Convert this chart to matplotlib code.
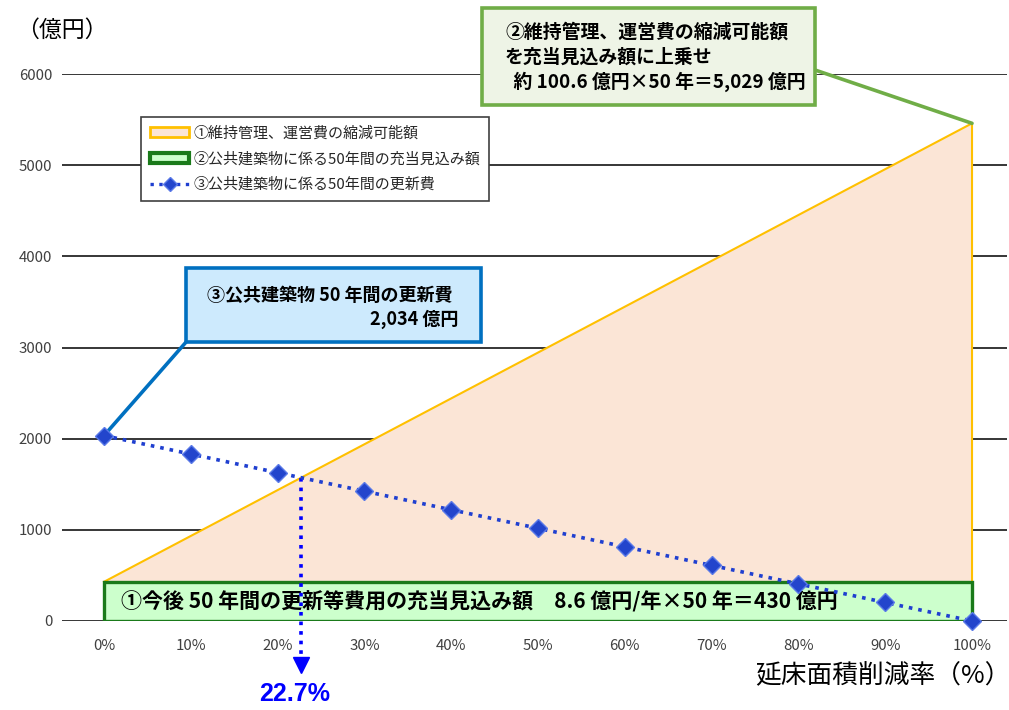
import matplotlib
matplotlib.use("Agg")
import matplotlib.pyplot as plt
from matplotlib.patches import Rectangle, Patch
from matplotlib.lines import Line2D
import numpy as np

plt.rcParams['font.family'] = ['Noto Sans CJK JP', 'DejaVu Sans']

# data
pct = [0, 10, 20, 30, 40, 50, 60, 70, 80, 90, 100]
pct_labels = [f"{p}%" for p in pct]
renewal = [2034, 1831, 1627, 1424, 1220, 1017, 814, 610, 407, 203, 0]
allot_base = 430          # 8.6億円/年 x 50年
reduction_total = 5029    # 100.6億円 x 50年
break_even = 22.7

legend_labels = ["①維持管理、運営費の縮減可能額",
                 "②公共建築物に係る50年間の充当見込み額",
                 "③公共建築物に係る50年間の更新費"]
box1_text = "①今後 50 年間の更新等費用の充当見込み額　8.6 億円/年×50 年＝430 億円"
box2_lines = ["②維持管理、運営費の縮減可能額", "を充当見込み額に上乗せ",
              "  約 100.6 億円×50 年＝5,029 億円"]
box3_lines = ["③公共建築物 50 年間の更新費", "2,034 億円"]

W, H = 1009, 710


def px(x, y):
    return x / W, 1 - y / H


fig = plt.figure(figsize=(W / 100, H / 100), dpi=100)
ax = fig.add_axes([62 / W, 1 - 621 / H, (1007 - 62) / W, (621 - 74) / H])
ax.set_xlim(-4.84, 104.03)
ax.set_ylim(0, 6000)

for s in ax.spines.values():
    s.set_visible(False)
ax.set_yticks(range(0, 6001, 1000))
ax.set_xticks(pct)
ax.set_xticklabels(pct_labels)
ax.tick_params(length=0, labelsize=10.8, labelcolor='#404040')
ax.tick_params(axis='x', pad=13)
ax.tick_params(axis='y', pad=7)
ax.grid(axis='y', color='black', lw=1.1, zorder=0)
ax.set_axisbelow(True)

# ① orange reduction triangle
top = allot_base + reduction_total
ax.fill([0, 100, 100], [allot_base, top, allot_base],
        facecolor='#fbe5d6', edgecolor='none', zorder=2)
ax.plot([0, 100, 100], [allot_base, top, allot_base], color='#ffc000', lw=1.5, zorder=2.5)

# ② allocation rectangle
ax.add_patch(Rectangle((0, 0), 100, allot_base, facecolor='#ccffcc',
                       edgecolor='#1a7a1a', lw=2.4, zorder=3))
ax.text(2, allot_base / 2, box1_text, fontsize=15.1, fontweight='bold',
        va='center', ha='left', zorder=4)

# ③ renewal cost
ax.plot(pct, renewal, color='#1f3fd0', ls=':', lw=2.6, marker='D', markersize=9,
        markerfacecolor='#2345cc', markeredgecolor='#5a7ae8', zorder=6, clip_on=False)

# break even
cross_y = allot_base + reduction_total * break_even / 100
ax.plot([break_even, break_even], [cross_y, -420], color='#0000ff', ls=':', lw=2.6,
        zorder=5, clip_on=False)
ax.plot([break_even], [-480], marker='v', markersize=12, color='#0000ff',
        clip_on=False, zorder=5)
fig.text(*px(295, 694), f"{break_even}%", color='#0000ff', fontsize=18,
         fontweight='bold', family=['Liberation Sans', 'DejaVu Sans'],
         ha='center', va='center')

# axis titles
fig.text(*px(62, 30), "（億円）", fontsize=16.5, ha='center', va='center')
fig.text(*px(1011, 676), "延床面積削減率（%）", fontsize=18.5, ha='right', va='center')

# legend
handles = [Patch(facecolor='#fbe5d6', edgecolor='#ffc000', lw=2),
           Patch(facecolor='#ccffcc', edgecolor='#1a7a1a', lw=3),
           Line2D([], [], color='#1f3fd0', ls=':', lw=2.4, marker='D', markersize=7,
                  markerfacecolor='#2345cc', markeredgecolor='#5a7ae8')]
leg = fig.legend(handles, legend_labels, loc='upper left', bbox_to_anchor=px(141, 117),
                 fontsize=10.8, frameon=True, fancybox=False, edgecolor='#404040',
                 framealpha=1, handlelength=2.6, handleheight=0.6, handletextpad=0.3,
                 borderpad=0.6, labelspacing=0.75, borderaxespad=0)
leg.get_frame().set_linewidth(1.2)
for t in leg.get_texts():
    t.set_color('#262626')

# box ② (top right)
x0, y0, x1, y1 = 482, 8, 815, 105
fig.add_artist(Rectangle(px(x0, y1), (x1 - x0) / W, (y1 - y0) / H, transform=fig.transFigure,
                         facecolor='#eef4e6', edgecolor='#70ad47', lw=2.6, zorder=7))
for i, line in enumerate(box2_lines):
    fig.text(*px(505, 32 + 25 * i), line, fontsize=13.6, fontweight='bold',
             va='center', ha='left', zorder=8)
ax.annotate("", xy=(100, top), xycoords='data', xytext=px(815, 70),
            textcoords='figure fraction',
            arrowprops=dict(arrowstyle='-', color='#70ad47', lw=2.6, shrinkA=0, shrinkB=0),
            zorder=6)

# box ③ (blue)
x0, y0, x1, y1 = 186, 268, 481, 342
fig.add_artist(Rectangle(px(x0, y1), (x1 - x0) / W, (y1 - y0) / H, transform=fig.transFigure,
                         facecolor='#cdeafd', edgecolor='#0070c0', lw=2.6, zorder=7))
fig.text(*px(207, 295), box3_lines[0], fontsize=13, fontweight='bold',
         va='center', ha='left', zorder=8)
fig.text(*px(458, 319), box3_lines[1], fontsize=13, fontweight='bold',
         va='center', ha='right', zorder=8)
ax.annotate("", xy=(0, renewal[0]), xycoords='data', xytext=px(187, 341),
            textcoords='figure fraction',
            arrowprops=dict(arrowstyle='-', color='#0070c0', lw=2.6, shrinkA=0, shrinkB=0),
            zorder=5)

fig.savefig("out.png", dpi=100)
